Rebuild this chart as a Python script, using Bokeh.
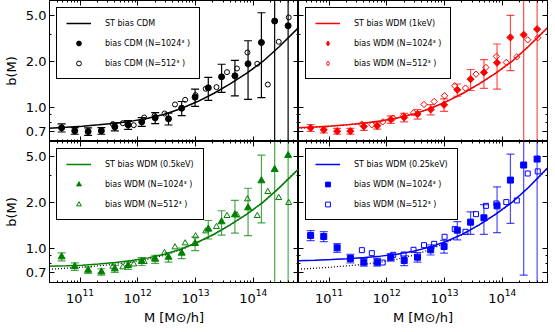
import json
from bokeh.plotting import figure
from bokeh.layouts import gridplot
from bokeh.models import (Range1d, LogAxis, FixedTicker, LogTickFormatter,
                          CustomJSTickFormatter, Legend, LegendItem)
from bokeh.embed import file_html
from bokeh.resources import INLINE

# ---------------- data ----------------
# halo mass bins [M_sun/h]
M_1024 = [4.8e10, 8.1e10, 1.38e11, 2.34e11, 4.0e11, 6.8e11, 1.17e12, 2.0e12, 3.4e12,
          5.75e12, 9.8e12, 1.66e13, 2.82e13, 4.8e13, 8.1e13, 1.38e14, 2.34e14, 4.0e14]
M_512 = [3.7e11, 5.5e11, 8.5e11, 1.29e12, 1.95e12, 2.9e12, 4.4e12, 6.6e12, 1.0e13,
         1.5e13, 2.3e13, 3.5e13, 5.2e13, 7.9e13, 1.17e14, 1.78e14, 2.75e14, 4.1e14]
M_st = [2.9e10, 5.7e10, 1.1e11, 2.1e11, 4.1e11, 7.8e11, 1.5e12, 2.9e12, 5.5e12,
        1.06e13, 2.05e13, 3.9e13, 7.6e13, 1.46e14, 2.8e14, 6.1e14]

# CDM
st_cdm = [0.733, 0.744, 0.756, 0.771, 0.790, 0.815, 0.852, 0.905, 0.981, 1.090,
          1.235, 1.421, 1.669, 2.000, 2.493, 3.336]
b_cdm_1024 = [0.737, 0.704, 0.697, 0.704, 0.748, 0.771, 0.806, 0.856, 0.844, 0.99,
              1.169, 1.345, 1.587, 1.611, 1.93, 2.66, 3.67, 3.42]
e_cdm_1024 = [0.045, 0.035, 0.04, 0.035, 0.045, 0.05, 0.053, 0.07, 0.075, 0.105,
              0.15, 0.23, 0.33, 0.42, 0.8, 1.5, 4.0, 4.0]
b_cdm_512 = [0.779, 0.79, 0.767, 0.861, 0.883, 0.914, 1.047, 1.123, 1.205, 1.325,
             1.359, 1.703, 1.799, 2.289, 1.93, 1.414, 2.688, 3.877]

# WDM 1 keV
st_w1 = [0.737, 0.747, 0.758, 0.773, 0.792, 0.816, 0.853, 0.906, 0.981, 1.090,
         1.235, 1.421, 1.669, 2.000, 2.493, 3.336]
b_w1_1024 = [0.737, 0.715, 0.701, 0.701, 0.752, 0.759, 0.835, 0.861, 0.905, 0.971,
             1.041, 1.305, 1.532, 1.694, 1.96, 2.87, 2.99, 3.25]
e_w1_1024 = [0.038, 0.032, 0.03, 0.03, 0.043, 0.036, 0.048, 0.054, 0.064, 0.075,
             0.097, 0.12, 0.24, 0.36, 0.64, 1.13, 4.0, 4.0]
b_w1_512 = [0.779, 0.771, 0.806, 0.852, 0.883, 0.923, 1.047, 1.095, 1.193, 1.386,
            1.339, 1.652, 1.827, 2.156, 1.97, 2.144, 2.77, 2.855]

# WDM 0.5 keV
st_w05 = [0.767, 0.771, 0.779, 0.792, 0.810, 0.835, 0.869, 0.919, 0.990, 1.095,
          1.235, 1.421, 1.669, 2.000, 2.490, 3.310]
b_w05_1024 = [0.883, 0.763, 0.722, 0.704, 0.737, 0.775, 0.823, 0.852, 0.878, 0.933,
              1.079, 1.339, 1.495, 1.661, 1.845, 2.77, 3.285, 4.055]
e_w05_1024 = [0.053, 0.044, 0.033, 0.034, 0.038, 0.043, 0.048, 0.052, 0.062, 0.075,
              0.11, 0.185, 0.27, 0.40, 0.63, 1.3, 4.0, 4.0]
b_w05_512 = [0.763, 0.756, 0.79, 0.819, 0.861, 0.937, 1.021, 1.084, 1.205, 1.299,
             1.386, 1.636, 1.652, 2.102, 1.636, 2.348, 2.144, 1.99]

# WDM 0.25 keV
st_w025 = [0.831, 0.839, 0.848, 0.859, 0.874, 0.892, 0.919, 0.961, 1.021, 1.112,
           1.241, 1.421, 1.669, 2.000, 2.493, 3.370]
b_w025_1024 = [1.217, 1.198, 1.011, 0.861, 0.815, 0.815, 0.878, 0.835, 0.878, 0.981,
               1.031, 1.318, 1.487, 1.587, 1.90, 2.798, 3.51, 3.84]
e_w025_1024 = [0.092, 0.09, 0.066, 0.054, 0.047, 0.047, 0.05, 0.062, 0.064, 0.074,
               0.098, 0.18, 0.25, 0.35, 0.63, 1.34, 2.84, 4.0]
b_w025_512 = [0.976, 0.933, 0.81, 0.91, 0.914, 0.981, 1.052, 1.073, 1.193, 1.339,
              1.286, 1.677, 1.90, 1.97, 2.01, 2.06, 3.09, 3.19]

# axis ticks
x_ticks = [1e11, 1e12, 1e13, 1e14]
y_ticks = [0.7, 1.0, 2.0, 4.0]
y_tick_labels = ["0.7", "1.0", "2.0", "5.0"]
y_minor = [0.6, 0.8, 0.9, 3.0]

# ---------------- styling ----------------
FONT = "DejaVu Sans"
X_RANGE = (2.96e10, 6.05e14)
Y_RANGE = (0.6, 5.0)
FW, FH = 249, 141
x_minor = [k * 10.0 ** e for e in range(10, 15) for k in range(2, 10)]

y_fmt_code = ("const t=%s; const l=%s; for (let i=0;i<t.length;i++){"
              "if (Math.abs(tick-t[i])<1e-6) return l[i];} return '';"
              % (json.dumps(y_ticks), json.dumps(y_tick_labels)))


def add_axis(p, side, kind, labels, axis_label=None):
    if kind == "x":
        ticker = FixedTicker(ticks=x_ticks, minor_ticks=x_minor)
        fmt = LogTickFormatter() if labels else CustomJSTickFormatter(code="return '';")
    else:
        ticker = FixedTicker(ticks=y_ticks, minor_ticks=y_minor)
        fmt = CustomJSTickFormatter(code=y_fmt_code) if labels else CustomJSTickFormatter(code="return '';")
    ax = LogAxis(ticker=ticker, formatter=fmt)
    ax.major_tick_in = 5
    ax.major_tick_out = 0
    ax.minor_tick_in = 2
    ax.minor_tick_out = 0
    ax.axis_line_color = "black"
    ax.major_tick_line_color = "black"
    ax.minor_tick_line_color = "black"
    if labels:
        ax.major_label_text_font = FONT
        ax.major_label_text_font_size = "13px"
        ax.major_label_text_color = "black"
        ax.major_label_standoff = 6 if kind == "x" else 3
    else:
        ax.major_label_text_font_size = "0px"
        ax.major_label_standoff = 0
    if axis_label:
        ax.axis_label = axis_label
        ax.axis_label_text_font = FONT
        ax.axis_label_text_font_size = "13px"
        ax.axis_label_text_font_style = "normal"
        ax.axis_label_text_color = "black"
        ax.axis_label_standoff = 4
    p.add_layout(ax, side)


def make_panel(col, row, color, err_alpha, st, b1024, e1024, b512, marker, fsize, osize,
               angle, leg_marker, labels, dotted):
    left = col == 0
    bottom = row == 1
    p = figure(x_axis_type="log", y_axis_type="log",
               x_range=Range1d(*X_RANGE), y_range=Range1d(*Y_RANGE),
               frame_width=FW, frame_height=FH,
               x_axis_location=None, y_axis_location=None,
               output_backend="svg", toolbar_location=None,
               min_border_left=4 if left else 0, min_border_right=0 if left else 1,
               min_border_top=0, min_border_bottom=4 if bottom else 0,
               background_fill_color="white", border_fill_color="white")
    p.grid.visible = False
    p.outline_line_color = "black"
    p.outline_line_width = 1

    add_axis(p, "left", "y", left, "b(M)" if left else None)
    add_axis(p, "right", "y", False)
    add_axis(p, "below", "x", bottom, "M [M\u2299/h]" if bottom else None)
    add_axis(p, "above", "x", False)

    if dotted:
        p.line(M_st, st_cdm, line_color="black", line_width=1.3, line_dash="1 2")
    r_line = p.line(M_st, st, line_color=color, line_width=1.5)

    lower = [max(v - d, 0.05) for v, d in zip(b1024, e1024)]
    upper = [v + d for v, d in zip(b1024, e1024)]
    p.segment(x0=M_1024, y0=lower, x1=M_1024, y1=upper, line_color=color,
              line_width=1.2, line_alpha=err_alpha)
    p.scatter(M_1024, upper, marker="dash", size=8, line_color=color,
              line_width=1.2, line_alpha=err_alpha)
    p.scatter(M_1024, lower, marker="dash", size=8, line_color=color,
              line_width=1.2, line_alpha=err_alpha)

    r_open = p.scatter(M_512, b512, marker=marker, size=osize, angle=angle,
                       fill_color=None, line_color=color, line_width=1)
    r_fill = p.scatter(M_1024, b1024, marker=marker, size=fsize, angle=angle,
                       fill_color=color, line_color=color)

    if leg_marker != marker:
        # zero-size copies of the same points: they only supply the legend swatch
        r_fill = p.scatter(M_1024, b1024, marker=leg_marker, size=0,
                           fill_color=color, line_color=color)
        r_open = p.scatter(M_512, b512, marker=leg_marker, size=0,
                           fill_color=None, line_color=color, line_width=1)

    leg = Legend(items=[LegendItem(label=labels[0], renderers=[r_line]),
                        LegendItem(label=labels[1], renderers=[r_fill]),
                        LegendItem(label=labels[2], renderers=[r_open])],
                 location="top_left")
    leg.margin = 7
    leg.padding = 9
    leg.spacing = 8
    leg.glyph_width = 25
    leg.glyph_height = 12
    leg.label_height = 12
    leg.label_standoff = 14
    leg.label_text_font = FONT
    leg.label_text_font_size = "8px"
    leg.label_text_color = "black"
    leg.border_line_color = "black"
    leg.border_line_width = 1
    leg.border_line_alpha = 1
    leg.background_fill_color = "white"
    leg.background_fill_alpha = 1
    p.add_layout(leg)
    return p


sup3 = "\u00b3"
p1 = make_panel(0, 0, "black", 1.0, st_cdm, b_cdm_1024, e_cdm_1024, b_cdm_512,
                "circle", 6, 5, 0, "circle",
                ["ST bias CDM", "bias CDM (N=1024%s )" % sup3, "bias CDM (N=512%s )" % sup3],
                False)
p2 = make_panel(1, 0, "#ff0000", 0.7, st_w1, b_w1_1024, e_w1_1024, b_w1_512,
                "square", 5, 4.5, 0.785398, "diamond",
                ["ST bias WDM (1keV)", "bias WDM (N=1024%s )" % sup3, "bias WDM (N=512%s )" % sup3],
                True)
p3 = make_panel(0, 1, "#008000", 0.7, st_w05, b_w05_1024, e_w05_1024, b_w05_512,
                "triangle", 7, 6, 0, "triangle",
                ["ST bias WDM (0.5keV)", "bias WDM (N=1024%s )" % sup3, "bias WDM (N=512%s )" % sup3],
                True)
p4 = make_panel(1, 1, "#0000ff", 0.7, st_w025, b_w025_1024, e_w025_1024, b_w025_512,
                "square", 6, 5, 0, "square",
                ["ST bias WDM (0.25keV)", "bias WDM (N=1024%s )" % sup3, "bias WDM (N=512%s )" % sup3],
                True)

grid = gridplot([[p1, p2], [p3, p4]], toolbar_location=None)
open("out.html", "w").write(file_html(grid, INLINE))
